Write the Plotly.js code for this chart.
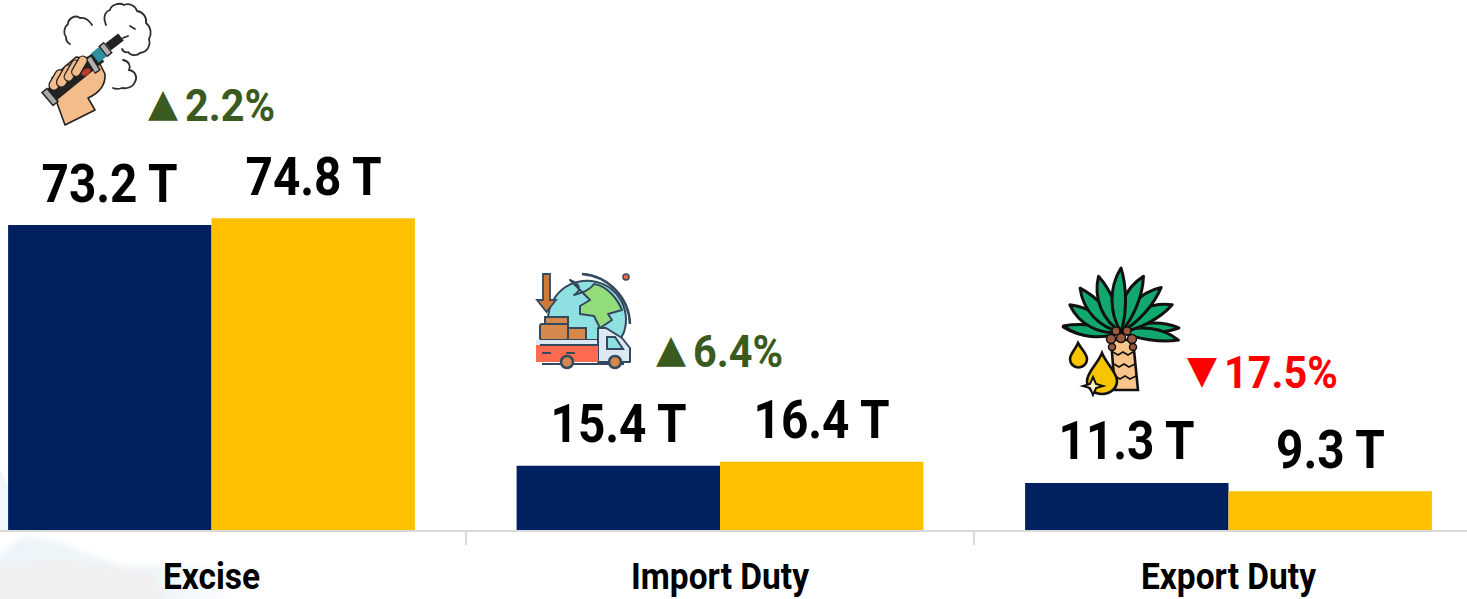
<!DOCTYPE html>
<html><head><meta charset="utf-8">
<script src="https://cdn.plot.ly/plotly-3.0.1.min.js"></script>
<style>html,body{margin:0;padding:0;background:#fff}#c{width:1467px;height:599px}</style></head>
<body><div id="c"></div>
<script>
const categories=["Excise","Import Duty","Export Duty"];
const seriesPrior=[73.2,15.4,11.3];
const seriesCurrent=[74.8,16.4,9.3];
const deltaSymbols=["▲","▲","▼"];
const deltaTexts=["2.2%","6.4%","17.5%"];
const deltaColors=["#3B5A20","#3B5A20","#FF0000"];
const deltaSymbolX=[163,671,1202];
const deltaTextX=[229.5,737.5,1281];
const deltaY=[105,351,372];
const FONT='Roboto,sans-serif';
const H=530, W=1467;
const fmt=v=>v.toFixed(1)+" T";

const vape=`<svg xmlns="http://www.w3.org/2000/svg" width="120" height="130" viewBox="0 0 120 130">
<g fill="none" stroke="#2e2e2e" stroke-width="1.800" stroke-linecap="round">
<path d="M66 25c-3-6-2-13 4-15 1-5 9-8 14-5 5-2 11 0 13 6 6 1 10 6 9 12 5 4 6 11 3 16 2 7-2 13-9 14-3 3-9 3-12-1-3 1-5-1-6-3"/>
<path d="M52 25c-3-5-7-8-12-7-5-4-12 1-12 6-4 3-5 9-2 13 0 3 2 6 4 7"/>
<path d="M83 60c6 1 8 6 6 10 6 1 9 7 6 12-2 5-8 7-13 6-3 1-7 1-9 0"/>
<path d="M83 38l5-2M90 26l5 3"/></g>
<path d="M17 103L25 125L55 110L48 98Q66 90 65 74L58 60L36 57L12 78z" fill="#F4BC8A" stroke="#222" stroke-width="1.600" stroke-linejoin="round"/>
<line x1="9" y1="97" x2="52" y2="62" stroke="#222" stroke-width="15"/>
<line x1="42" y1="70" x2="60" y2="56" stroke="#222" stroke-width="14"/>
<line x1="4" y1="90" x2="16" y2="104" stroke="#222" stroke-width="8"/><line x1="5" y1="91" x2="15" y2="103" stroke="#a8a8a8" stroke-width="5"/>
<line x1="48" y1="57" x2="58" y2="72" stroke="#222" stroke-width="7"/><line x1="49" y1="58" x2="57" y2="71" stroke="#b0b0b0" stroke-width="4.500"/>
<line x1="55" y1="58" x2="66" y2="49" stroke="#2F8FA0" stroke-width="12"/>
<line x1="61" y1="44" x2="70" y2="55" stroke="#222" stroke-width="7"/><line x1="62" y1="45" x2="69" y2="54" stroke="#b0b0b0" stroke-width="4.500"/>
<line x1="68" y1="47" x2="81" y2="37" stroke="#222" stroke-width="9"/>
<ellipse cx="46" cy="72" rx="5" ry="3" fill="#C0392B" transform="rotate(-35 46 72)"/>
<g fill="#F4BC8A" stroke="#222" stroke-width="1.300"><rect x="12" y="69" width="10" height="22" rx="5" transform="rotate(30 17 80)"/><rect x="20" y="64" width="10" height="24" rx="5" transform="rotate(30 25 76)"/><rect x="28" y="59" width="9" height="23" rx="4.500" transform="rotate(30 32 70)"/><rect x="35" y="55" width="9" height="22" rx="4.500" transform="rotate(30 39 66)"/></g></svg>`;

const truck=`<svg xmlns="http://www.w3.org/2000/svg" width="105" height="100" viewBox="0 0 105 100">
<path d="M20 62A39 39 0 1 1 94 62L90 70H24z" fill="#8FE0E0" stroke="#34495E" stroke-width="2"/>
<path d="M40 10C50 14 52 20 44 25C54 22 60 20 64 14C78 16 88 30 92 40L78 44L82 50L70 58L64 46L50 44L50 36L60 30z" fill="#93DC7C" stroke="#34495E" stroke-width="2" stroke-linejoin="round"/>
<path d="M52 4a52 52 0 0 1 48 50" fill="none" stroke="#34495E" stroke-width="2.500"/>
<circle cx="96" cy="7" r="3" fill="#E8694A" stroke="#34495E" stroke-width="1.500"/>
<path d="M13 4h7v26h6L16.500 42 7 30h6z" fill="#CC7A3C" stroke="#34495E" stroke-width="1.800"/>
<rect x="15" y="47" width="23" height="9" fill="#D4884C" stroke="#34495E" stroke-width="2"/>
<rect x="10" y="54" width="28" height="16" rx="2" fill="#D4884C" stroke="#34495E" stroke-width="2"/>
<rect x="38" y="58" width="18" height="12" fill="#D4884C" stroke="#34495E" stroke-width="2"/>
<rect x="6" y="70" width="64" height="5" fill="#DCE8F2"/>
<path d="M68 58h8l16 10 8 10v14H68z" fill="#DCE8F2" stroke="#34495E" stroke-width="2" stroke-linejoin="round"/>
<path d="M77 67h8l8 12H77z" fill="#8FE0E0" stroke="#34495E" stroke-width="2"/>
<rect x="6" y="75" width="62" height="17" fill="#FF6B50"/>
<path d="M10 75H68M12 83h9M36 83h9" stroke="#34495E" stroke-width="2"/>
<path d="M12 94H94" stroke="#34495E" stroke-width="2"/>
<circle cx="37" cy="92" r="6" fill="#D4884C" stroke="#34495E" stroke-width="2.500"/>
<circle cx="85" cy="92" r="6" fill="#D4884C" stroke="#34495E" stroke-width="2.500"/></svg>`;

const frond=(a,l,w)=>`<path d="M0 0C${l*.3} ${-w} ${l*.7} ${-w} ${l} 0C${l*.7} ${w*.5} ${l*.3} ${w*.5} 0 0z" transform="translate(66 70) rotate(${a})"/>`;
const palm=`<svg xmlns="http://www.w3.org/2000/svg" width="130" height="138" viewBox="0 0 130 138">
<g fill="#11A86E" stroke="#111" stroke-width="3" stroke-linejoin="round">
${[[-175,58,9],[186,58,10],[-4,58,9],[8,58,10],[-152,58,13],[-28,58,13],[-133,60,13],[-48,60,13],[-112,60,13],[-68,60,13],[-90,64,12]].map(f=>frond(...f)).join("")}
</g>
<path d="M56 78h22l5 50H60z" fill="#F9C58A" stroke="#111" stroke-width="2.600"/>
<path d="M58 90l5 3 5-3 5 3 5-3M59 102l5 3 5-3 5 3 6-3M60 114l5 3 5-3 5 3 6-3" fill="none" stroke="#111" stroke-width="1.600"/>
<g fill="#9A5A3E" stroke="#111" stroke-width="1.500"><circle cx="61" cy="69" r="4"/><circle cx="72" cy="69" r="4"/><circle cx="56" cy="77" r="4.500"/><circle cx="66" cy="76" r="4.500"/><circle cx="77" cy="77" r="4.500"/><circle cx="57" cy="85" r="3.500"/><circle cx="78" cy="85" r="3.500"/></g>
<g fill="#F7C400" stroke="#111" stroke-width="2.600"><path d="M23 81c4 7 9 11 9 16a8.500 8.500 0 0 1-17 0c0-5 5-9 8-16z"/><path d="M47 91c5 12 15 19 15 28a15 13 0 0 1-30 0c0-9 10-16 15-28z"/></g>
<path d="M38 115l3 7 7 2-7 2-3 7-3-7-7-2 7-2z" fill="#FFF4C0" stroke="#111" stroke-width="2"/></svg>`;

const wash=`<svg xmlns="http://www.w3.org/2000/svg" width="260" height="159" viewBox="0 0 260 159">
<defs><linearGradient id="f" x1="0" x2="1" y1="0" y2="0"><stop offset="0" stop-color="#EDF4F9"/><stop offset=".7" stop-color="#EFF6FA"/><stop offset="1" stop-color="#fff"/></linearGradient>
<filter id="b" x="-10%" y="-10%" width="120%" height="120%"><feGaussianBlur stdDeviation="3"/></filter></defs>
<path d="M0 30L8 45V92H0z" fill="#F0F6FB"/>
<g filter="url(#b)">
<path d="M24 96C60 98 80 112 120 125C170 127 220 124 245 127L215 170H-10V125Q8 108 24 96z" fill="url(#f)"/>
<path d="M-10 128C50 114 100 122 150 132L175 170H-10z" fill="#F1F0F1"/></g></svg>`;
const uri=s=>"data:image/svg+xml;base64,"+btoa(unescape(encodeURIComponent(s)));

const mk=(name,vals,color)=>({type:"bar",name,x:categories,y:vals,marker:{color,line:{width:0}},hoverinfo:"x+y"});
const pic=(source,x,y,w,h,layer)=>({source,xref:"paper",yref:"paper",x:x/W,y:1-y/H,sizex:w/W,sizey:h/H,xanchor:"left",yanchor:"top",sizing:"stretch",layer:layer||"above"});
const lab=(vals,sh)=>vals.map((v,i)=>({xref:"x",yref:"y",x:categories[i],y:v,xshift:sh,yshift:41.500,yanchor:"middle",xanchor:"center",showarrow:false,captureevents:false,
   text:fmt(v),font:{family:FONT,size:53,color:"#000",weight:700}}));
const pos=(t,x,y,c,fam,size,dy)=>({xref:"paper",yref:"paper",x:x/W,y:1-y/H,yshift:dy||0,yanchor:"middle",xanchor:"center",showarrow:false,text:t,font:{family:fam,size,color:c,weight:700}});

const layout={width:W,height:599,margin:{l:0,r:0,t:0,b:69,pad:0},showlegend:false,
 paper_bgcolor:"#fff",plot_bgcolor:"rgba(0,0,0,0)",barmode:"group",bargap:0.2,bargroupgap:0,
 xaxis:{type:"category",range:[-0.4159,2.469],tickson:"boundaries",ticks:"outside",ticklen:13,tickwidth:2,tickcolor:"#d9d9d9",ticklabelstandoff:13,
  showline:true,linecolor:"#d9d9d9",linewidth:2,showgrid:false,zeroline:false,
  tickfont:{family:FONT,size:37,color:"#000",weight:700}},
 yaxis:{range:[0,127.2],visible:false,showgrid:false,zeroline:false},
 annotations:[...lab(seriesPrior,-101.7),...lab(seriesCurrent,101.7),
   ...deltaTexts.map((t,i)=>pos(t,deltaTextX[i],deltaY[i],deltaColors[i],FONT,45)),
   ...deltaSymbols.map((t,i)=>pos(t,deltaSymbolX[i],deltaY[i],deltaColors[i],'"DejaVu Sans"',39,3))],
 images:[pic(uri(wash),0,440,260,159,"below"),pic(uri(vape),40,0,120,130),pic(uri(truck),530,270,105,100),pic(uri(palm),1055,262,130,138)]};

Plotly.newPlot("c",[mk("Prior",seriesPrior,"#00205F"),mk("Current",seriesCurrent,"#FFC000")],layout,{displayModeBar:false}).then(gd=>{
  const squeeze=(el,r)=>{const n=el.getComputedTextLength();el.setAttribute("textLength",n*r);el.setAttribute("lengthAdjust","spacingAndGlyphs");};
  gd.querySelectorAll(".xtick text").forEach(e=>squeeze(e,0.905));
  gd.querySelectorAll(".annotation-text").forEach(e=>{
    const t=e.textContent;
    if(/T$/.test(t)) squeeze(e,0.9);
    else if(/%$/.test(t)) squeeze(e,0.92);
  });
});
</script></body></html>
